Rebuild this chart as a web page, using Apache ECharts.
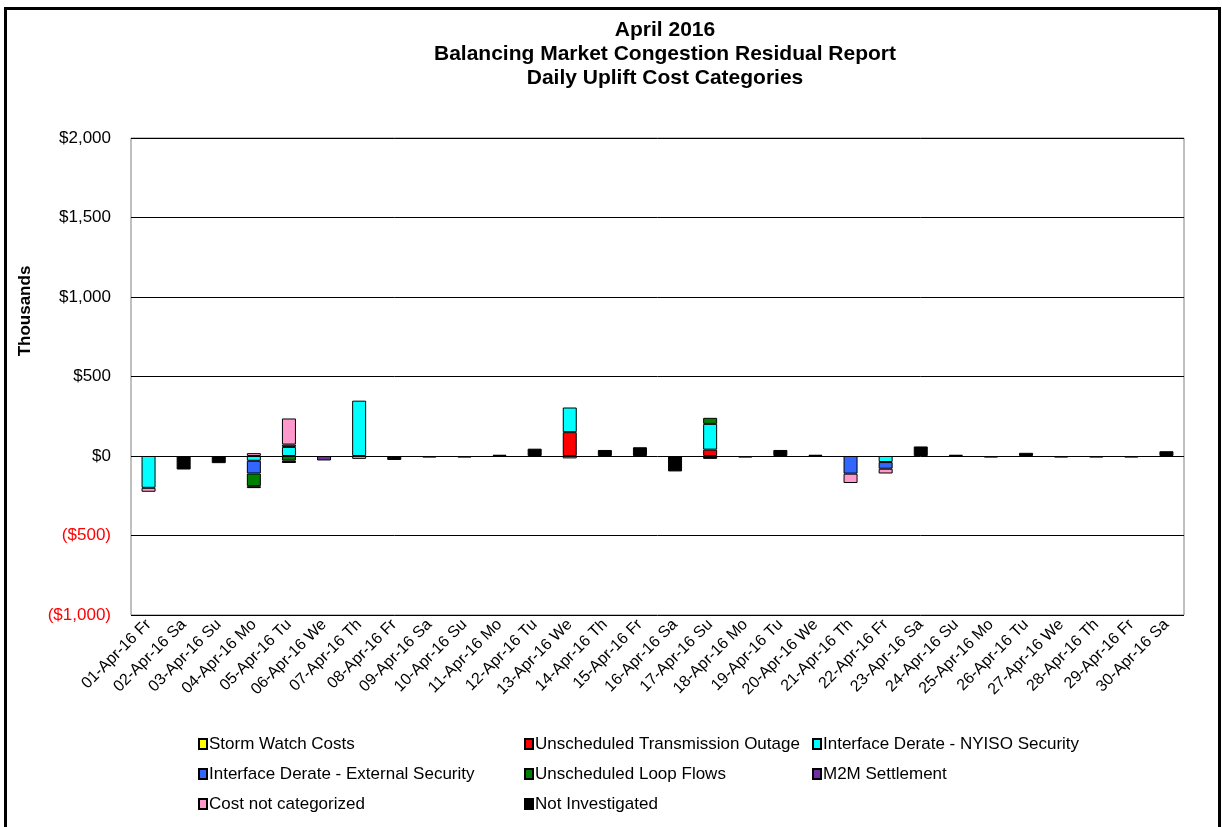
<!DOCTYPE html>
<html>
<head>
<meta charset="utf-8">
<script src="https://cdn.jsdelivr.net/npm/echarts@6/dist/echarts.min.js"></script>
<style>
  html, body { margin: 0; padding: 0; background: #fff; overflow: hidden; }
  #frame { position: absolute; left: 4px; top: 7px; width: 1211px; height: 900px; border: 3px solid #000; }
  #chart { position: absolute; left: 0; top: 0; width: 1222px; height: 827px; }
</style>
</head>
<body>
<div id="frame"></div>
<div id="chart"></div>
<script>
// daily values, thousands of dollars
const days = [
  '01-Apr-16 Fr', '02-Apr-16 Sa', '03-Apr-16 Su', '04-Apr-16 Mo', '05-Apr-16 Tu',
  '06-Apr-16 We', '07-Apr-16 Th', '08-Apr-16 Fr', '09-Apr-16 Sa', '10-Apr-16 Su',
  '11-Apr-16 Mo', '12-Apr-16 Tu', '13-Apr-16 We', '14-Apr-16 Th', '15-Apr-16 Fr',
  '16-Apr-16 Sa', '17-Apr-16 Su', '18-Apr-16 Mo', '19-Apr-16 Tu', '20-Apr-16 We',
  '21-Apr-16 Th', '22-Apr-16 Fr', '23-Apr-16 Sa', '24-Apr-16 Su', '25-Apr-16 Mo',
  '26-Apr-16 Tu', '27-Apr-16 We', '28-Apr-16 Th', '29-Apr-16 Fr', '30-Apr-16 Sa'
];

const stormWatch =     [0, 0, 0, 0, 0, 0, 0, 0, 0, 0, 0, 0, 0, 0, 0, 0, 0, 0, 0, 0, 0, 0, 0, 0, 0, 0, 0, 0, 0, 0];
const transOutage =    [0, 0, 0, 0, 0, 0, 0, 0, 0, 0, 0, 0, 150, 0, 0, 0, 40, 0, 0, 0, 0, 0, 0, 0, 0, 0, 0, 0, 0, 0];
const nyisoSecurity =  [-200, 0, 0, -30, 57, 0, 348, 0, 0, 0, 0, 0, 155, 0, 0, 0, 162, 0, 0, 0, 0, -38, 0, 0, 0, 0, 0, 0, 0, 0];
const extSecurity =    [0, 0, 0, -80, 15, 0, 0, 0, 0, 0, 0, 0, 0, 0, 0, 0, 0, 0, 0, 0, -111, -42, 0, 0, 0, 0, 0, 0, 0, 0];
const loopFlows =      [0, 0, 0, -80, -29, 0, 0, 0, 0, 0, 0, 0, 0, 0, 0, 0, 38, 0, 0, 0, 0, 0, 0, 0, 0, 0, 0, 0, 0, 0];
const m2m =            [0, 0, 0, 0, 0, -28, 0, 0, 0, 0, 0, 0, 0, 0, 0, 0, 0, 0, 0, 0, 0, 0, 0, 0, 0, 0, 0, 0, 0, 0];
const notCategorized = [-25, 0, 0, 18, 164, 0, -18, 0, 0, 0, 0, 0, -15, 0, 0, 0, 0, 0, 0, 0, -59, -30, 0, 0, 0, 0, 0, 0, 0, 0];
const notInvestigated = [0, -85, -45, -12, -15, 0, 0, -25, -10, -10, 8, 46, 0, 38, 55, -97, -18, -10, 38, 8, 0, 0, 60, 8, -10, 20, -10, -10, -10, 30];

const seriesDefs = [
  ['Storm Watch Costs', stormWatch, '#ffff00'],
  ['Unscheduled Transmission Outage', transOutage, '#ff0000'],
  ['Interface Derate - NYISO Security', nyisoSecurity, '#00ffff'],
  ['Interface Derate - External Security', extSecurity, '#3366ff'],
  ['Unscheduled Loop Flows', loopFlows, '#008000'],
  ['M2M Settlement', m2m, '#7030a0'],
  ['Cost not categorized', notCategorized, '#ff99cc'],
  ['Not Investigated', notInvestigated, '#000000']
];

const font = '"Liberation Sans", Arial, sans-serif';

const legendBase = {
  orient: 'vertical',
  top: 729,
  itemWidth: 8,
  itemHeight: 10,
  itemGap: 10,
  icon: 'rect',
  selectedMode: false,
  textStyle: { fontFamily: font, fontSize: 17, color: '#000', lineHeight: 20, padding: [0, 0, 0, -3] }
};

const fmtMoney = (v) => {
  const s = '$' + Math.abs(v).toLocaleString('en-US');
  return v < 0 ? '(' + s + ')' : s;
};

const chart = echarts.init(document.getElementById('chart'));

chart.setOption({
  animation: false,
  backgroundColor: 'transparent',
  title: {
    text: 'April 2016\nBalancing Market Congestion Residual Report\nDaily Uplift Cost Categories',
    left: 660,
    top: 13,
    textAlign: 'center',
    textStyle: { fontFamily: font, fontSize: 21, fontWeight: 'bold', color: '#000', lineHeight: 24 }
  },
  graphic: [{
    type: 'text',
    x: 25,
    y: 311,
    rotation: Math.PI / 2,
    style: {
      text: 'Thousands',
      fontFamily: font,
      fontSize: 17,
      fontWeight: 'bold',
      fill: '#000',
      align: 'center',
      verticalAlign: 'middle'
    }
  }],
  legend: [
    Object.assign({}, legendBase, { left: 193, data: [seriesDefs[0][0], seriesDefs[3][0], seriesDefs[6][0]] }),
    Object.assign({}, legendBase, { left: 519, data: [seriesDefs[1][0], seriesDefs[4][0], seriesDefs[7][0]] }),
    Object.assign({}, legendBase, { left: 807, data: [seriesDefs[2][0], seriesDefs[5][0]] })
  ],
  grid: {
    left: 131,
    top: 138,
    right: 38,
    bottom: 212,
    show: true,
    borderColor: '#808080',
    borderWidth: 1
  },
  xAxis: {
    type: 'category',
    data: days,
    axisLine: { show: false, onZero: false },
    axisTick: { show: false },
    axisLabel: {
      interval: 0,
      rotate: 45,
      margin: 7,
      fontFamily: font,
      fontSize: 16,
      color: '#000'
    }
  },
  yAxis: {
    type: 'value',
    min: -1000,
    max: 2000,
    interval: 500,
    axisLine: { show: false },
    axisTick: { show: false },
    splitLine: { lineStyle: { color: '#000', width: 1 } },
    axisLabel: {
      margin: 20,
      fontFamily: font,
      fontSize: 17,
      formatter: fmtMoney,
      color: (v) => (Number(v) < 0 ? '#ff0000' : '#000')
    }
  },
  series: seriesDefs.map(([name, values, color]) => ({
    name,
    type: 'bar',
    stack: 'uplift',
    barWidth: 14,
    data: values.map((v) => (v === 0 ? null : v)),
    itemStyle: { color, borderColor: '#000', borderWidth: 1 }
  }))
});
</script>
</body>
</html>
